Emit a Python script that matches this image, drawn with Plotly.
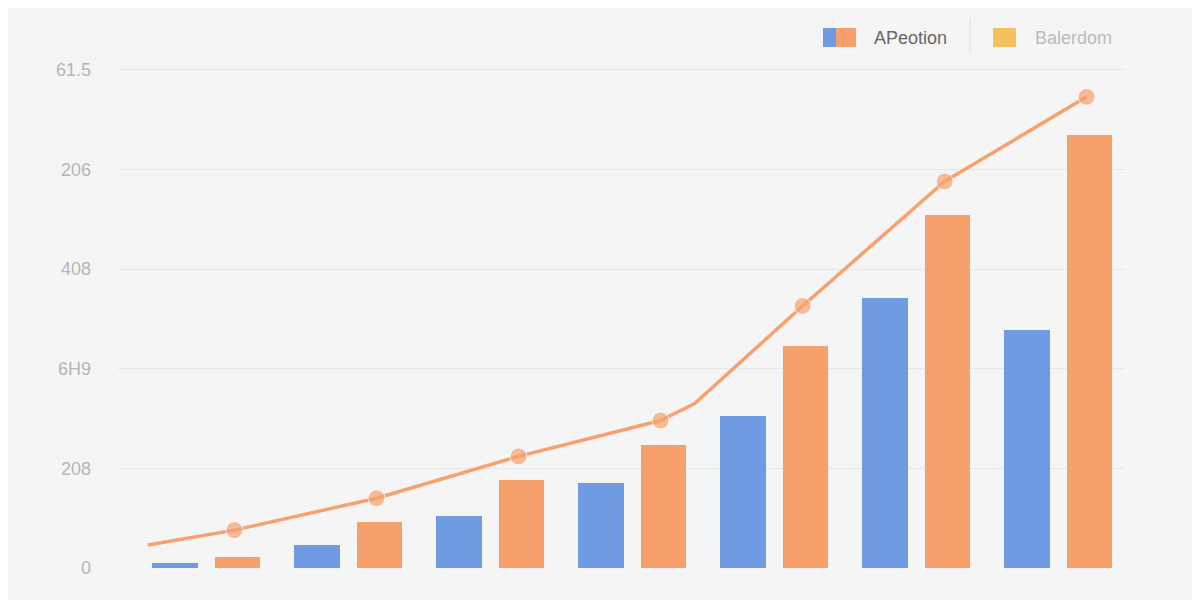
import plotly.graph_objects as go

# group positions and values (in tick units)
groups = [0, 1, 2, 3, 4, 5, 6]
blue_vals = [0.05, 0.23, 0.52, 0.85, 1.53, 2.71, 2.39]
orange_vals = [0.11, 0.46, 0.88, 1.23, 2.23, 3.54, 4.35]
line_x = [-0.41, 0.2, 1.2, 2.2, 3.2, 3.44, 4.2, 5.2, 6.2]
line_y = [0.23, 0.38, 0.70, 1.12, 1.48, 1.65, 2.63, 3.88, 4.73]
line_marker = [0, 17, 17, 17, 17, 0, 17, 17, 17]
tick_vals = [0, 1, 2, 3, 4, 5]
tick_text = ["0", "208", "6H9", "408", "206", "61.5"]

BLUE = "#6f9be3"
ORANGE = "#f7a06b"
YELLOW = "#f5c15a"

fig = go.Figure()
fig.add_trace(go.Bar(x=[g - 0.22 for g in groups], y=blue_vals, width=0.32,
                     marker=dict(color=BLUE, line=dict(width=0)), showlegend=False))
fig.add_trace(go.Bar(x=[g + 0.22 for g in groups], y=orange_vals, width=0.32,
                     marker=dict(color=ORANGE, line=dict(width=0)), showlegend=False))
fig.add_trace(go.Scatter(x=line_x, y=line_y, mode="lines+markers",
                         line=dict(color="#f5a26e", width=3.5),
                         marker=dict(size=line_marker, color="#f5a26e"),
                         showlegend=False))

# page offset of ~8px, so work in plot coordinates shifted accordingly
OFF = 8

def px(x):
    return (x - 118) / 1007

def py(y):
    return (568 - y) / 528

shapes = [
    dict(type="rect", xref="paper", yref="paper", x0=px(823), x1=px(840), y0=py(47), y1=py(28),
         fillcolor=BLUE, line=dict(width=0)),
    dict(type="rect", xref="paper", yref="paper", x0=px(836), x1=px(856), y0=py(47), y1=py(28),
         fillcolor=ORANGE, line=dict(width=0)),
    dict(type="rect", xref="paper", yref="paper", x0=px(993), x1=px(1016), y0=py(47), y1=py(28),
         fillcolor=YELLOW, line=dict(width=0)),
    dict(type="line", xref="paper", yref="paper", x0=px(970), x1=px(970), y0=py(52), y1=py(18),
         line=dict(color="#dddddd", width=1)),
]
annotations = [
    dict(text="APeotion", xref="paper", yref="paper", x=px(872), y=py(38), xanchor="left",
         yanchor="middle", showarrow=False, font=dict(size=18, color="#666666")),
    dict(text="Balerdom", xref="paper", yref="paper", x=px(1033), y=py(38), xanchor="left",
         yanchor="middle", showarrow=False, font=dict(size=18, color="#bbbbbb")),
]

fig.update_layout(
    width=1200, height=600,
    margin=dict(l=118 - OFF, r=75 + OFF, t=40 - OFF, b=32 + OFF),
    paper_bgcolor="#f5f5f5", plot_bgcolor="#f5f5f5",
    font=dict(family="Liberation Sans, Arial", color="#b5b5b5", size=18),
    xaxis=dict(range=[-0.62, 6.47], showgrid=False, showticklabels=False, zeroline=False),
    yaxis=dict(range=[0, 5.3], tickvals=tick_vals, ticktext=tick_text,
               gridcolor="#e6e6e6", zeroline=False, ticklabelstandoff=26),
    shapes=shapes, annotations=annotations, bargap=0,
)

fig.write_html("out.html")
